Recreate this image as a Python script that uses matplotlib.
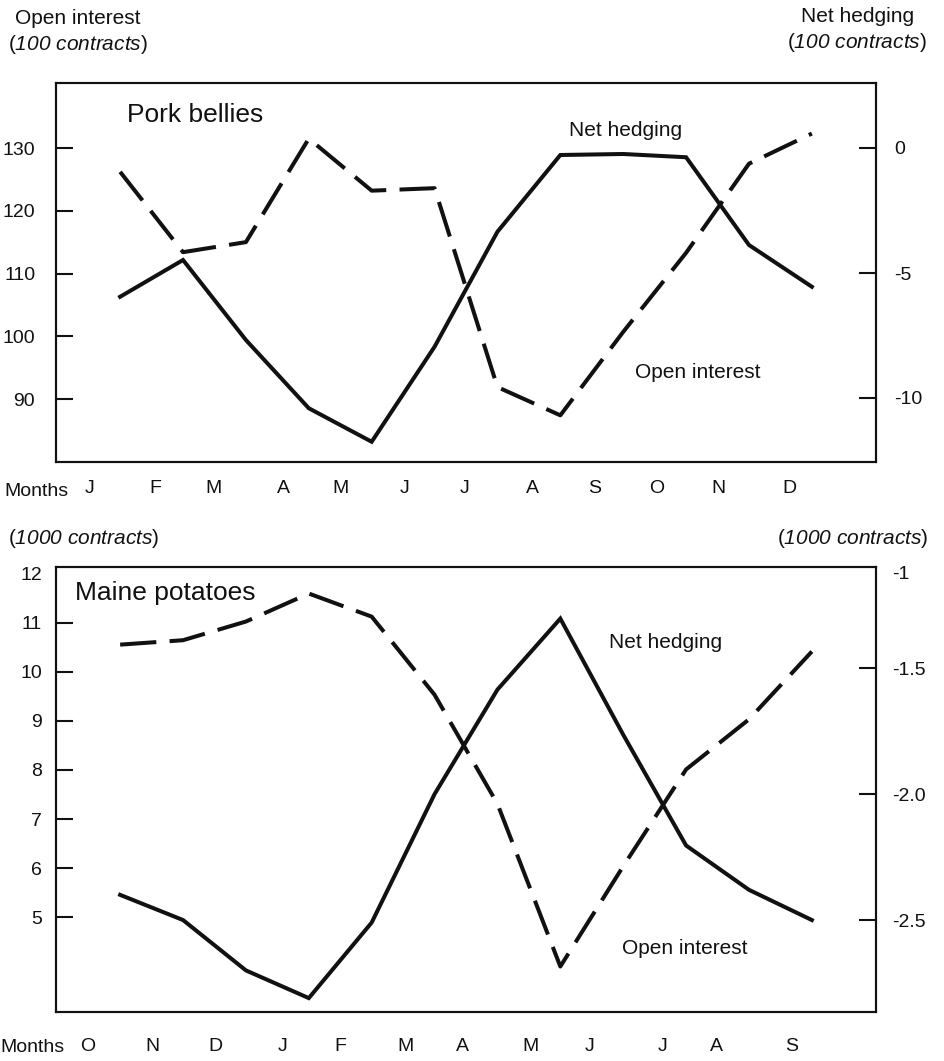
import matplotlib
matplotlib.use('Agg')
import matplotlib.pyplot as plt

plt.rcParams['font.family'] = ['Liberation Sans', 'DejaVu Sans']
# italic units inside upright parentheses
plt.rcParams['mathtext.fontset'] = 'custom'
plt.rcParams['mathtext.rm'] = 'Liberation Sans:italic'
plt.rcParams['mathtext.it'] = 'Liberation Sans:italic'

# --- data ---
# pork bellies, Jan..Dec (index 0..11)
pork_open = [126.2, 113.4, 115.0, 131.5, 123.2, 123.6, 91.9, 87.4, 100.7, 113.3, 127.5, 132.3]  # 100 contracts
pork_hedge = [-5.95, -4.48, -7.68, -10.41, -11.75, -7.95, -3.35, -0.28, -0.24, -0.37, -3.88, -5.55]  # 100 contracts
pork_months = ['J', 'F', 'M', 'A', 'M', 'J', 'J', 'A', 'S', 'O', 'N', 'D']

# maine potatoes, Oct..Sep
pot_open = [10.55, 10.64, 11.02, 11.59, 11.12, 9.53, 7.31, 4.0, 6.04, 8.01, 9.03, 10.41]  # 1000 contracts
pot_hedge = [-2.40, -2.50, -2.70, -2.81, -2.51, -2.0, -1.585, -1.303, -1.764, -2.204, -2.38, -2.50]  # 1000 contracts
pot_months = ['O', 'N', 'D', 'J', 'F', 'M', 'A', 'M', 'J', 'J', 'A', 'S']

# where the month letters sit (in x units of the points)
pork_month_pos = [-0.48, 0.56, 1.48, 2.59, 3.5, 4.53, 5.48, 6.55, 7.55, 8.54, 9.52, 10.65]
pot_month_pos = [-0.51, 0.52, 1.51, 2.59, 3.5, 4.53, 5.44, 6.52, 7.46, 8.62, 9.49, 10.68]

W, H = 944, 1061
fig = plt.figure(figsize=(W / 100, H / 100), dpi=100)
ink = '#111111'


def fx(px):
    return px / W


def fy(py):
    return 1 - py / H


def units(n):
    return r'$\mathregular{(}\mathrm{' + n + r'\ contracts}\mathregular{)}$'


def panel(top, bottom, opn, hedge, months, mpos, ylim_l, ylim_r, yt_l, yl_l, yt_r, yl_r,
          pad_l, pad_r, pad_x):
    ax = fig.add_axes([fx(56), fy(bottom), fx(876) - fx(56), fy(top) - fy(bottom)])
    axr = ax.twinx()
    x = range(len(opn))
    ax.plot(x, opn, color=ink, lw=2.9, dashes=(9, 3.3), dash_capstyle='butt')
    axr.plot(x, hedge, color=ink, lw=2.9, solid_joinstyle='miter')
    ax.set_xlim(-1.02, 12.02)
    ax.set_ylim(*ylim_l)
    axr.set_ylim(*ylim_r)
    ax.set_yticks(yt_l, yl_l)
    axr.set_yticks(yt_r, yl_r)
    ax.set_xticks(mpos, months)
    for a in (ax, axr):
        for s in a.spines.values():
            s.set_linewidth(1.5)
            s.set_color(ink)
    ax.tick_params(axis='y', direction='in', length=12, width=1.5, pad=pad_l,
                   labelsize=14, colors=ink)
    axr.tick_params(axis='y', direction='in', length=12, width=1.5, pad=pad_r,
                    labelsize=14, colors=ink)
    ax.tick_params(axis='x', length=0, pad=pad_x, labelsize=14, colors=ink)
    return ax, axr


ax1, ax1r = panel(83, 462, pork_open, pork_hedge, pork_months, pork_month_pos,
                  (79.96, 140.36), (-12.56, 2.6),
                  [90, 100, 110, 120, 130], ['90', '100', '110', '120', '130'],
                  [-10, -5, 0], ['-10', '-5', '0'], 15, 13, 13)

ax2, ax2r = panel(567, 1011.7, pot_open, pot_hedge, pot_months, pot_month_pos,
                  (3.08, 12.13), (-2.864, -1.098),
                  [5, 6, 7, 8, 9, 10, 11, 12], ['5', '6', '7', '8', '9', '10', '11', '12'],
                  [-2.5, -2.0, -1.5, -1.12], ['-2.5', '-2.0', '-1.5', '-1'], 10, 11.5, 19)
# top labels "12" and "-1" have no tick mark
ax2.yaxis.get_major_ticks()[-1].tick1line.set_visible(False)
ax2r.yaxis.get_major_ticks()[-1].tick2line.set_visible(False)

# headers
fig.text(fx(15), fy(18), 'Open interest', fontsize=15, va='center', ha='left', color=ink)
fig.text(fx(8), fy(44), units('100'), fontsize=15, va='center', ha='left', color=ink)
fig.text(fx(914), fy(16), 'Net hedging', fontsize=15, va='center', ha='right', color=ink)
fig.text(fx(927), fy(42), units('100'), fontsize=15, va='center', ha='right', color=ink)
fig.text(fx(8), fy(539), units('1000'), fontsize=15, va='center', ha='left', color=ink)
fig.text(fx(929), fy(539), units('1000'), fontsize=15, va='center', ha='right', color=ink)

# months word
fig.text(fx(4), fy(492), 'Months', fontsize=14, va='center', ha='left', color=ink)
fig.text(fx(0), fy(1048), 'Months', fontsize=14, va='center', ha='left', color=ink)

# panel names and line labels
fig.text(fx(127), fy(115), 'Pork bellies', fontsize=19, va='center', ha='left', color=ink)
fig.text(fx(569), fy(130), 'Net hedging', fontsize=15, va='center', ha='left', color=ink)
fig.text(fx(635), fy(373), 'Open interest', fontsize=15, va='center', ha='left', color=ink)
fig.text(fx(75), fy(593), 'Maine potatoes', fontsize=19, va='center', ha='left', color=ink)
fig.text(fx(609), fy(643), 'Net hedging', fontsize=15, va='center', ha='left', color=ink)
fig.text(fx(622), fy(949), 'Open interest', fontsize=15, va='center', ha='left', color=ink)

fig.savefig('out.png', dpi=100, facecolor='white')
